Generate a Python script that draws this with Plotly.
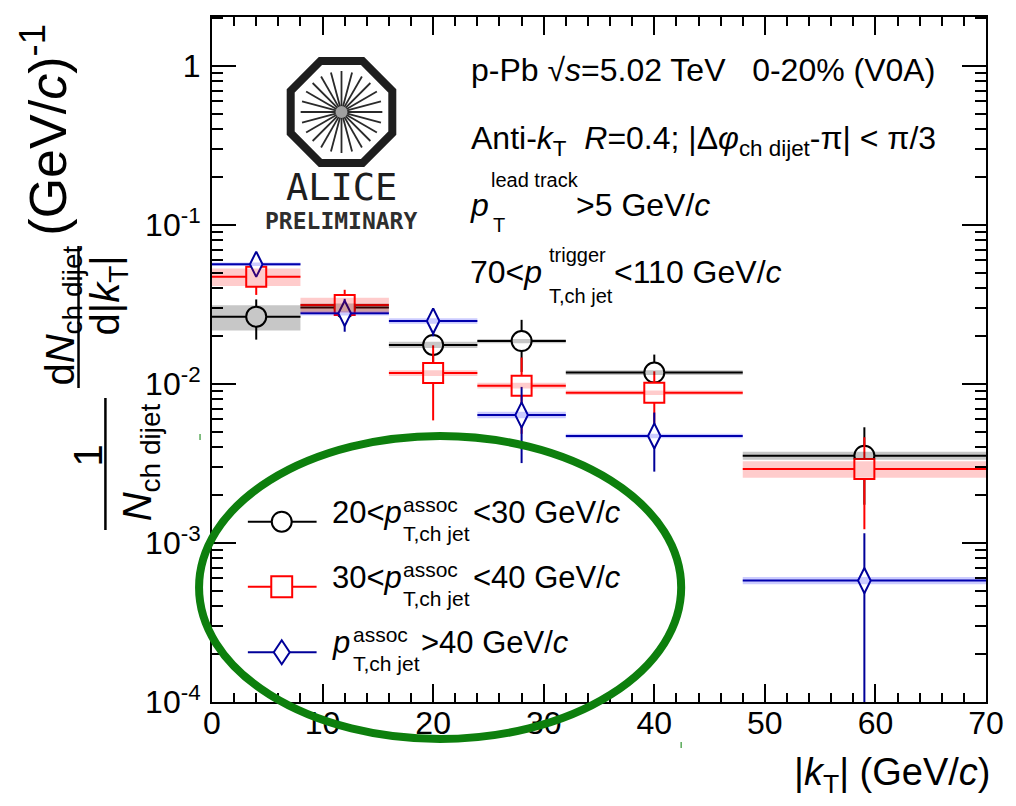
import math
import plotly.graph_objects as go

# |kT| bins (GeV/c): bin centres and half widths
kt_center = [4, 12, 20, 28, 40, 59]
kt_halfwidth = [4, 4, 4, 4, 8, 11]

# 20 < pT,assoc < 30 GeV/c
y_20_30 = [0.0265, 0.0302, 0.0176, 0.0186, 0.0118, 0.00354]
stat_20_30 = [0.0075, 0.0045, 0.0040, 0.0067, 0.0035, 0.0018]
sys_20_30 = [0.0048, 0.0018, 0.0008, 0.0006, 0.0004, 0.0002]

# 30 < pT,assoc < 40 GeV/c
y_30_40 = [0.0473, 0.0314, 0.0117, 0.00976, 0.00881, 0.00292]
stat_30_40 = [0.0110, 0.0077, 0.0058, 0.0049, 0.0032, 0.0017]
sys_30_40 = [0.0060, 0.0034, 0.0005, 0.0004, 0.0003, 0.00035]

# pT,assoc > 40 GeV/c
y_40 = [0.0566, 0.0278, 0.0249, 0.00638, 0.00471, 0.00058]
stat_40 = [0.0040, 0.0065, 0.0050, 0.0032, 0.0019, 0.00057]
sys_40 = [0.0015, 0.0009, 0.0010, 0.0003, 0.00015, 0.00003]

y_tickvals = [1e-4, 1e-3, 1e-2, 1e-1, 1]
y_ticktext = ["10<sup>-4</sup>", "10<sup>-3</sup>", "10<sup>-2</sup>", "10<sup>-1</sup>", "1"]

FONT = "Liberation Sans"
W, H = 1016, 806
PL, PR, PT, PB = 212, 989, 17, 702


def px(x):
    return (x - PL) / (PR - PL)


def py(y):
    return (PB - y) / (PB - PT)


series = [
    dict(y=y_20_30, stat=stat_20_30, sys=sys_20_30, color="#000000",
         band="rgba(0,0,0,0.22)", symbol="circle", msize=20),
    dict(y=y_30_40, stat=stat_30_40, sys=sys_30_40, color="#ff0000",
         band="rgba(255,0,0,0.2)", symbol="square", msize=20),
    dict(y=y_40, stat=stat_40, sys=sys_40, color="#000099",
         band="rgba(0,0,255,0.2)", symbol="diamond-tall", msize=18),
]

fig = go.Figure()

# points with statistical errors; white marker fill hides the bars inside
for s in series:
    fig.add_trace(go.Scatter(
        x=kt_center, y=s["y"], mode="markers", showlegend=False,
        marker=dict(symbol=s["symbol"], size=s["msize"],
                    color="white", line=dict(color=s["color"], width=2)),
        error_x=dict(type="data", array=kt_halfwidth, width=0,
                     thickness=2, color=s["color"]),
        error_y=dict(type="data", array=s["stat"], width=0,
                     thickness=2, color=s["color"]),
    ))

# systematic uncertainty boxes
for s in series:
    bx, by = [], []
    for c, hw, v, e in zip(kt_center, kt_halfwidth, s["y"], s["sys"]):
        bx += [c - hw, c + hw, c + hw, c - hw, c - hw, None]
        by += [v - e, v - e, v + e, v + e, v - e, None]
    fig.add_trace(go.Scatter(
        x=bx, y=by, mode="lines", fill="toself", fillcolor=s["band"],
        line=dict(width=0), hoverinfo="skip", showlegend=False,
    ))

minor_y = [m * 10 ** e for e in range(-4, 1) for m in range(2, 10) if m * 10 ** e < 2.05]

fig.update_layout(
    width=W, height=H, autosize=False,
    margin=dict(l=PL, r=W - PR, t=PT, b=H - PB, pad=0),
    paper_bgcolor="white", plot_bgcolor="white",
    font=dict(family=FONT, color="black"),
    showlegend=False,
    xaxis=dict(
        range=[0, 70], showgrid=False, zeroline=False, showline=True,
        linecolor="black", linewidth=2, mirror="ticks",
        ticks="inside", ticklen=18, tickwidth=1.5, tickcolor="black",
        dtick=10, tick0=0, tickfont=dict(family=FONT, size=32),
        ticklabelstandoff=-8,
        minor=dict(dtick=2, tick0=0, ticks="inside", ticklen=9,
                   tickwidth=1.5, tickcolor="black", showgrid=False),
    ),
    yaxis=dict(
        type="log", range=[-4, math.log10(2.03)], showgrid=False,
        zeroline=False, showline=True, linecolor="black", linewidth=2,
        mirror="ticks", ticks="inside", ticklen=24, tickwidth=1.5,
        tickcolor="black", tickmode="array", tickvals=y_tickvals,
        ticktext=y_ticktext, tickfont=dict(family=FONT, size=32),
        ticklabelstandoff=3,
        minor=dict(tickmode="array", tickvals=minor_y, ticks="inside",
                   ticklen=11, tickwidth=1.5, tickcolor="black",
                   showgrid=False),
    ),
)

shapes = []
ann = []


def text(x, y, s, size=32, anchor="left", angle=0, color="black", family=FONT):
    ann.append(dict(x=px(x), y=py(y), xref="paper", yref="paper", text=s,
                    showarrow=False, xanchor=anchor, yanchor="middle",
                    textangle=angle, font=dict(family=family, size=size, color=color)))


def seg(x0, y0, x1, y1, color="black", width=2):
    shapes.append(dict(type="line", xref="paper", yref="paper",
                       x0=px(x0), y0=py(y0), x1=px(x1), y1=py(y1),
                       line=dict(color=color, width=width)))


# info text block
text(470, 70, "p-Pb \u221a<i>s</i>=5.02 TeV\u00a0\u00a0\u00a00-20% (V0A)")
text(470, 140, "Anti-<i>k</i><sub>T</sub>\u00a0 <i>R</i>=0.4; |\u0394<i>\u03c6</i><sub>ch dijet</sub>-\u03c0| &lt; \u03c0/3")
text(469, 205, "<i>p</i>")
text(490, 180, "lead track", size=20)
text(492, 225, "T", size=20)
text(575, 205, "&gt;5 GeV/<i>c</i>")
text(469, 272, "70&lt;<i>p</i>")
text(548, 255, "trigger", size=20)
text(548, 296, "T,ch jet", size=20)
text(614, 272, "&lt;110 GeV/<i>c</i>")

# axis titles
text(995, 775, "|<i>k</i><sub>T</sub>| (GeV/<i>c</i>)", size=38, anchor="right")
text(88, 455, "1", size=40, anchor="center", angle=-90)
seg(105, 398, 105, 530, width=2.5)
text(140, 462, "<i>N</i><sub>ch dijet</sub>", size=40, anchor="center", angle=-90)
text(62, 316, "d<i>N</i><sub>ch dijet</sub>", size=40, anchor="center", angle=-90)
seg(78, 246, 78, 388, width=2.5)
text(108, 295, "d|<i>k</i><sub>T</sub>|", size=40, anchor="center", angle=-90)
text(44, 130, "(GeV/<i>c</i>)<sup>-1</sup>", size=52, anchor="center", angle=-90)

# legend
leg_rows = [
    (521.7, "#000000", "circle", "20&lt;<i>p</i>", "&lt;30 GeV/<i>c</i>", 402, 472),
    (586.7, "#ff0000", "square", "30&lt;<i>p</i>", "&lt;40 GeV/<i>c</i>", 402, 472),
    (652.3, "#000099", "diamond", "<i>p</i>", "&gt;40 GeV/<i>c</i>", 352, 420),
]
for ly, col, sym, head, tail, xs, xt in leg_rows:
    seg(248, ly, 317, ly, color=col, width=2)
    cx = 282
    if sym == "circle":
        shapes.append(dict(type="circle", xref="paper", yref="paper",
                           x0=px(cx - 10), x1=px(cx + 10), y0=py(ly + 10), y1=py(ly - 10),
                           line=dict(color=col, width=2), fillcolor="white"))
    elif sym == "square":
        shapes.append(dict(type="rect", xref="paper", yref="paper",
                           x0=px(cx - 10.5), x1=px(cx + 10.5), y0=py(ly + 10.5), y1=py(ly - 10.5),
                           line=dict(color=col, width=2), fillcolor="white"))
    else:
        pts = [(cx, ly - 12), (cx + 8, ly), (cx, ly + 12), (cx - 8, ly)]
        path = "M " + " L ".join(f"{px(a):.5f},{py(b):.5f}" for a, b in pts) + " Z"
        shapes.append(dict(type="path", xref="paper", yref="paper", path=path,
                           line=dict(color=col, width=2), fillcolor="white"))
    tl = ly - 9.5
    text(330, tl, head, size=31)
    text(xs, tl - 8, "assoc", size=21)
    text(xs, tl + 21, "T,ch jet", size=21)
    text(xt, tl, tail, size=31)

# ALICE logo
LCX, LCY = 342, 112
oct_r = 51 / math.cos(math.pi / 8)
oct_pts = [(LCX + oct_r * math.cos(math.pi / 8 + k * math.pi / 4),
            LCY + oct_r * math.sin(math.pi / 8 + k * math.pi / 4)) for k in range(8)]
shapes.append(dict(type="path", xref="paper", yref="paper",
                   path="M " + " L ".join(f"{px(a):.5f},{py(b):.5f}" for a, b in oct_pts) + " Z",
                   line=dict(color="#1e1e1e", width=8)))
for k in range(24):
    a = k * math.pi / 12
    seg(LCX + 5 * math.cos(a), LCY + 5 * math.sin(a),
        LCX + 41 * math.cos(a), LCY + 41 * math.sin(a), color="#2a2a2a", width=1.8)
shapes.append(dict(type="circle", xref="paper", yref="paper",
                   x0=px(LCX - 6), x1=px(LCX + 6), y0=py(LCY + 6), y1=py(LCY - 6),
                   line=dict(width=0), fillcolor="#a0a0a0"))
text(LCX, 187, "ALICE", size=37, anchor="center", color="#1e1e1e", family="DejaVu Sans Mono")
text(LCX, 221, "<b>PRELIMINARY</b>", size=23, anchor="center", color="#2e2e2e", family="DejaVu Sans Mono")

# green ellipse around the legend
shapes.append(dict(type="circle", xref="paper", yref="paper", layer="above",
                   x0=px(199), x1=px(683), y0=py(739), y1=py(436),
                   line=dict(color="#0d7f0d", width=8)))
seg(200, 434, 200, 440, color="#5aaa5a", width=1.5)
seg(683, 742, 683, 748, color="#5aaa5a", width=1.5)

fig.update_layout(shapes=shapes, annotations=ann)
fig.write_html("out.html")
